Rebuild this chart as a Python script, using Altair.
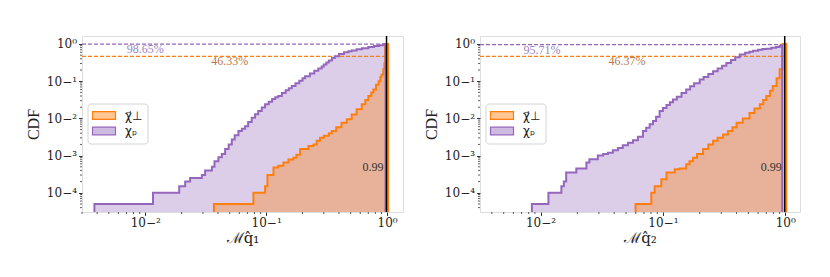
import altair as alt
import pandas as pd

# ---------------- data ----------------
series_names = ["χ⃗⊥", "χₚ"]          # orange, purple
line_colors = ["#ff7f0e", "#9467bd"]

# Left panel: M_{q1}
L_purple_x = [0.0038, 0.0116, 0.0191, 0.0214, 0.0235, 0.0294, 0.0313, 0.0356, 0.0374,
              0.0403, 0.043, 0.0458, 0.049, 0.052, 0.055, 0.059, 0.063, 0.067, 0.071,
              0.076, 0.081, 0.086, 0.092, 0.098, 0.105, 0.112, 0.119, 0.126, 0.135,
              0.145, 0.154, 0.163, 0.175, 0.188, 0.20, 0.21, 0.23, 0.25, 0.27, 0.288,
              0.30, 0.315, 0.33, 0.35, 0.37, 0.40, 0.44, 0.48, 0.51, 0.56, 0.62, 0.70, 0.78,
              0.86, 0.93]
L_purple_cdf = [5e-5, 1e-4, 1.5e-4, 2e-4, 2.5e-4, 3e-4, 4e-4, 5e-4, 7e-4,
                9e-4, 1.1e-3, 1.5e-3, 2.0e-3, 2.7e-3, 3.5e-3, 4.6e-3, 5.3e-3, 6.2e-3, 8.0e-3,
                1.04e-2, 1.3e-2, 1.58e-2, 1.95e-2, 2.4e-2, 2.8e-2, 3.3e-2, 3.7e-2, 4.0e-2, 4.8e-2,
                5.7e-2, 6.5e-2, 7.4e-2, 8.8e-2, 0.103, 0.12, 0.136, 0.16, 0.19, 0.22, 0.25,
                0.28, 0.32, 0.36, 0.42, 0.47, 0.54, 0.60, 0.64, 0.67, 0.72, 0.77, 0.83, 0.88,
                0.93, 0.98]
L_purple_end = 0.972
L_orange_x = [0.037, 0.0785, 0.098, 0.1025, 0.115, 0.126, 0.139, 0.153, 0.168, 0.178,
              0.191, 0.224, 0.246, 0.262, 0.279, 0.30, 0.33, 0.349, 0.38, 0.42, 0.465,
              0.51, 0.56, 0.618, 0.66, 0.70, 0.74, 0.77, 0.81, 0.85, 0.88, 0.90, 0.93,
              0.95, 0.965]
L_orange_cdf = [5e-5, 1e-4, 1.5e-4, 3e-4, 4.8e-4, 5.3e-4, 6.5e-4, 7.9e-4, 8.7e-4, 1.05e-3,
                1.5e-3, 1.8e-3, 2.0e-3, 2.5e-3, 3.0e-3, 3.4e-3, 4.0e-3, 4.6e-3, 5.8e-3, 7.6e-3, 9.5e-3,
                1.28e-2, 1.75e-2, 2.4e-2, 3.1e-2, 4.0e-2, 5.0e-2, 6.0e-2, 8.0e-2, 0.10, 0.13, 0.15, 0.21,
                0.30, 1.0]
L_orange_end = 1.02

# Right panel: M_{q2}
R_purple_x = [0.0085, 0.0116, 0.0148, 0.0155, 0.0162, 0.0196, 0.0237, 0.0251, 0.0294,
              0.0325, 0.0356, 0.039, 0.0429, 0.047, 0.0518, 0.057, 0.0625, 0.0687, 0.073,
              0.078, 0.083, 0.088, 0.094, 0.10, 0.107, 0.114, 0.121, 0.13, 0.142, 0.155,
              0.167, 0.18, 0.20, 0.215, 0.235, 0.257, 0.28, 0.305, 0.33, 0.36, 0.39,
              0.425, 0.47, 0.51, 0.545, 0.60, 0.65, 0.70, 0.77, 0.84, 0.90]
R_purple_cdf = [5e-5, 1e-4, 1.5e-4, 2e-4, 3.5e-4, 4.5e-4, 6.5e-4, 8e-4, 1.0e-3,
                1.1e-3, 1.2e-3, 1.4e-3, 1.6e-3, 1.9e-3, 2.2e-3, 2.6e-3, 3.2e-3, 4.6e-3, 5.6e-3,
                7.0e-3, 8.5e-3, 1.1e-2, 1.58e-2, 1.9e-2, 2.3e-2, 2.7e-2, 3.2e-2, 3.8e-2, 4.8e-2, 6.0e-2,
                7.3e-2, 8.8e-2, 0.111, 0.13, 0.155, 0.186, 0.22, 0.26, 0.31, 0.37, 0.44,
                0.52, 0.58, 0.62, 0.66, 0.70, 0.73, 0.75, 0.79, 0.83, 0.90]
R_purple_end = 0.945
R_orange_x = [0.0598, 0.0804, 0.0857, 0.097, 0.107, 0.125, 0.137, 0.155, 0.165, 0.176,
              0.19, 0.213, 0.235, 0.257, 0.28, 0.31, 0.34, 0.37, 0.40, 0.45, 0.51, 0.56,
              0.62, 0.66, 0.70, 0.75, 0.79, 0.85, 0.90, 0.95]
R_orange_cdf = [5e-5, 1e-4, 1.5e-4, 2.3e-4, 3.5e-4, 4.3e-4, 4.5e-4, 5.9e-4, 7e-4, 8.7e-4,
                1.1e-3, 1.5e-3, 2.0e-3, 2.5e-3, 3.0e-3, 3.7e-3, 4.6e-3, 5.8e-3, 7.6e-3, 1.0e-2, 1.4e-2,
                1.85e-2, 2.4e-2, 3.1e-2, 4.0e-2, 5.5e-2, 7.4e-2, 0.12, 0.21, 1.0]
R_orange_end = 1.02

# Percentage annotations (purple, orange)
L_pct_text = ["98.65%", "46.33%"]
L_pct_value = [0.9865, 0.4633]
L_pct_x = [0.0100, 0.050]
R_pct_text = ["95.71%", "46.37%"]
R_pct_value = [0.9571, 0.4637]
R_pct_x = [0.0103, 0.0508]
dash_end = 0.97

threshold = 0.99
threshold_label = "0.99"
threshold_label_y = 4.8e-4

L_xdomain = [0.0030, 1.355]
R_xdomain = [0.0032, 1.32]
ydomain = [3.05e-5, 1.64]

x_titles = ["ℳq̂₁", "ℳq̂₂"]

W_L, W_R, H = 321, 320, 176
TINY = 1e-7
SERIF = "Liberation Serif"


def step_frames(xs, ys, end, name):
    line_rows = [(xs[0], TINY)] + list(zip(xs, ys)) + [(end, ys[-1]), (end, TINY)]
    area_rows = list(zip(xs, ys)) + [(end, ys[-1])]
    lf = pd.DataFrame(line_rows, columns=["x", "y"])
    lf["i"] = range(len(lf))
    lf["series"] = name
    af = pd.DataFrame(area_rows, columns=["x", "y"])
    af["series"] = name
    return lf, af


def minor_values(lo, hi):
    vals = []
    for e in range(-6, 2):
        for m in range(2, 10):
            v = m * 10.0 ** e
            if lo <= v <= hi:
                vals.append(v)
    return vals


label_expr = ("'10' + replace(replace(replace(replace(replace(replace(replace("
              "format(log(datum.value)/log(10), '.0f'),"
              "'-', '⁻'), '0', '⁰'), '1', '¹'), '2', '²'), '3', '³'), '4', '⁴'), '5', '⁵')")


def legend_layers():
    """Legend box drawn inside the plot (top-left), like matplotlib's."""
    one = pd.DataFrame({"k": [0]})
    layers = [alt.Chart(one).mark_rect(fill="white", fillOpacity=0.85, stroke="#d4d4d4",
                                       strokeWidth=1, cornerRadius=3).encode(
        x=alt.value(6), x2=alt.value(66), y=alt.value(68), y2=alt.value(108))]
    rows = [(series_names[0], line_colors[0], 79.5), (series_names[1], line_colors[1], 95)]
    for label, col, yc in rows:
        layers.append(alt.Chart(one).mark_rect(fill=col, fillOpacity=0.45, stroke=col,
                                               strokeWidth=1.2).encode(
            x=alt.value(10.5), x2=alt.value(33.5), y=alt.value(yc - 3.8), y2=alt.value(yc + 3.8)))
        layers.append(alt.Chart(one).mark_text(align="left", baseline="middle", font="DejaVu Sans",
                                               fontSize=12, color="#222").encode(
            x=alt.value(43), y=alt.value(yc), text=alt.value(label)))
    return layers


def panel(px, py, pend, ox, oy, oend, xdomain, width, pct_text, pct_value, pct_x, xtitle):
    pl, pa = step_frames(px, py, pend, series_names[1])
    ol, oa = step_frames(ox, oy, oend, series_names[0])
    lines = pd.concat([ol, pl], ignore_index=True)

    xs = alt.Scale(type="log", domain=xdomain, nice=False)
    ys = alt.Scale(type="log", domain=ydomain, nice=False)
    xaxis = alt.Axis(title=xtitle, values=[0.01, 0.1, 1.0], labelExpr=label_expr,
                     grid=False, tickSize=3.5, tickColor="#333", domain=False,
                     labelFont="DejaVu Serif", labelFontSize=12, labelColor="#222",
                     titleFont="DejaVu Serif", titleFontSize=15, titleFontWeight="normal",
                     titleColor="#222", titleY=25, titleBaseline="middle", labelPadding=2)
    yaxis = alt.Axis(title="CDF", values=[1e-4, 1e-3, 1e-2, 1e-1, 1.0], labelExpr=label_expr,
                     grid=False, tickSize=3.5, tickColor="#333", domain=False,
                     labelFont="DejaVu Serif", labelFontSize=12, labelColor="#222",
                     titleFont=SERIF, titleFontSize=16, titleFontWeight="normal",
                     titleColor="#222", titlePadding=5, labelPadding=2)

    color_scale = alt.Scale(domain=series_names, range=line_colors)

    area_p = alt.Chart(pa).mark_area(interpolate="step-after", clip=True, fillOpacity=0.33).encode(
        x=alt.X("x:Q", scale=xs, axis=xaxis),
        y=alt.Y("y:Q", scale=ys, axis=yaxis, stack=None),
        y2=alt.value(H),
        color=alt.Color("series:N", scale=color_scale, legend=None),
    )
    area_o = alt.Chart(oa).mark_area(interpolate="step-after", clip=True, fillOpacity=0.36).encode(
        x="x:Q", y=alt.Y("y:Q", stack=None), y2=alt.value(H),
        color=alt.Color("series:N", scale=color_scale, legend=None),
    )

    dash_df = pd.DataFrame({"x0": [xdomain[0]] * 2, "x1": [dash_end] * 2,
                            "y": pct_value, "c": [line_colors[1], line_colors[0]]})
    dashes = alt.Chart(dash_df).mark_rule(strokeDash=[4, 2], strokeWidth=1.2, clip=True).encode(
        x="x0:Q", x2="x1:Q", y="y:Q", stroke=alt.Stroke("c:N", scale=None, legend=None))

    step_lines = alt.Chart(lines).mark_line(interpolate="step-after", strokeWidth=2, clip=True).encode(
        x="x:Q", y="y:Q",
        color=alt.Color("series:N", scale=color_scale, legend=None),
        detail="series:N",
        order=alt.Order("i:Q"),
    )

    thr = alt.Chart(pd.DataFrame({"x": [threshold]})).mark_rule(color="black", strokeWidth=1.5).encode(
        x="x:Q")

    thr_text = alt.Chart(pd.DataFrame({"x": [threshold], "y": [threshold_label_y],
                                       "t": [threshold_label]})).mark_text(
        align="right", baseline="middle", dx=-3, font=SERIF, fontSize=12, color="#333").encode(
        x="x:Q", y="y:Q", text="t:N")

    pct_df = pd.DataFrame({"x": pct_x, "y": pct_value, "t": pct_text,
                           "c": ["#9a86c4", "#b8784a"]})
    pct = alt.Chart(pct_df).mark_text(align="center", baseline="top", dy=0, font=SERIF,
                                      fontSize=12).encode(
        x="x:Q", y="y:Q", text="t:N", fill=alt.Fill("c:N", scale=None, legend=None))

    xminor = alt.Chart(pd.DataFrame({"x": minor_values(*xdomain)})).mark_rule(
        color="#333", strokeWidth=0.8).encode(x="x:Q", y=alt.value(H), y2=alt.value(H + 2))
    yminor = alt.Chart(pd.DataFrame({"y": minor_values(*ydomain)})).mark_rule(
        color="#333", strokeWidth=0.8).encode(y="y:Q", x=alt.value(0), x2=alt.value(-2))

    return alt.layer(area_p, area_o, dashes, step_lines, thr, thr_text, pct, xminor, yminor,
                     *legend_layers()).properties(width=width, height=H)


left = panel(L_purple_x, L_purple_cdf, L_purple_end, L_orange_x, L_orange_cdf, L_orange_end,
             L_xdomain, W_L, L_pct_text, L_pct_value, L_pct_x, x_titles[0])
right = panel(R_purple_x, R_purple_cdf, R_purple_end, R_orange_x, R_orange_cdf, R_orange_end,
              R_xdomain, W_R, R_pct_text, R_pct_value, R_pct_x, x_titles[1])

chart = alt.hconcat(left, right, spacing=18).resolve_scale(
    color="independent", x="independent"
).properties(
    padding={"left": 16, "top": 26, "right": 5, "bottom": 5}
).configure_view(stroke="#444", strokeWidth=1).configure(background="white")

chart.save("out.html", embed_options={"renderer": "svg", "actions": False})
